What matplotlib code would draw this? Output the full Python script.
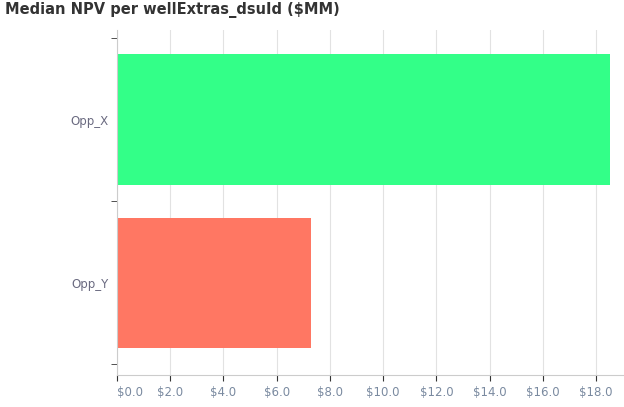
import matplotlib
matplotlib.use("Agg")
import matplotlib.pyplot as plt
from matplotlib.ticker import FuncFormatter

categories = ["Opp_Y", "Opp_X"]
values = [7.28, 18.51]
colors = ["#ff7763", "#33ff88"]

fig = plt.figure(figsize=(6.24, 4.07), dpi=100)
ax = fig.add_axes([117 / 624, 32 / 407, 1 - 117 / 624, 345 / 407])

ax.barh(range(len(categories)), values, height=0.8, color=colors, zorder=2)

ax.set_xlim(0, 19.05)
ax.set_ylim(-0.565, 1.55)
ax.set_xticks([i * 2 for i in range(10)])
ax.xaxis.set_major_formatter(FuncFormatter(lambda v, p: f"${v:.1f}"))
ax.set_yticks([0, 1])
ax.set_yticklabels(categories)
ax.set_yticks([-0.5, 0.5, 1.5], minor=True)
ax.tick_params(axis="y", which="major", length=0, labelsize=8.5,
               labelcolor="#6a6a80", pad=6)
ax.tick_params(axis="y", which="minor", length=4, color="#333333")
ax.tick_params(axis="x", length=4, color="#333333", labelsize=8.5,
               labelcolor="#7a8aa0", pad=4)
ax.get_xticklabels()[0].set_ha("left")
ax.grid(axis="x", color="#e2e2e2", linewidth=0.8, zorder=0)
for s in ["top", "right"]:
    ax.spines[s].set_visible(False)
ax.spines["left"].set_color("#cccccc")
ax.spines["bottom"].set_color("#cccccc")

fig.text(0.008, 0.995, "Median NPV per wellExtras_dsuId ($MM)",
         fontsize=10.5, fontweight="bold", color="#333333", va="top")

fig.savefig("out.png", dpi=100)
